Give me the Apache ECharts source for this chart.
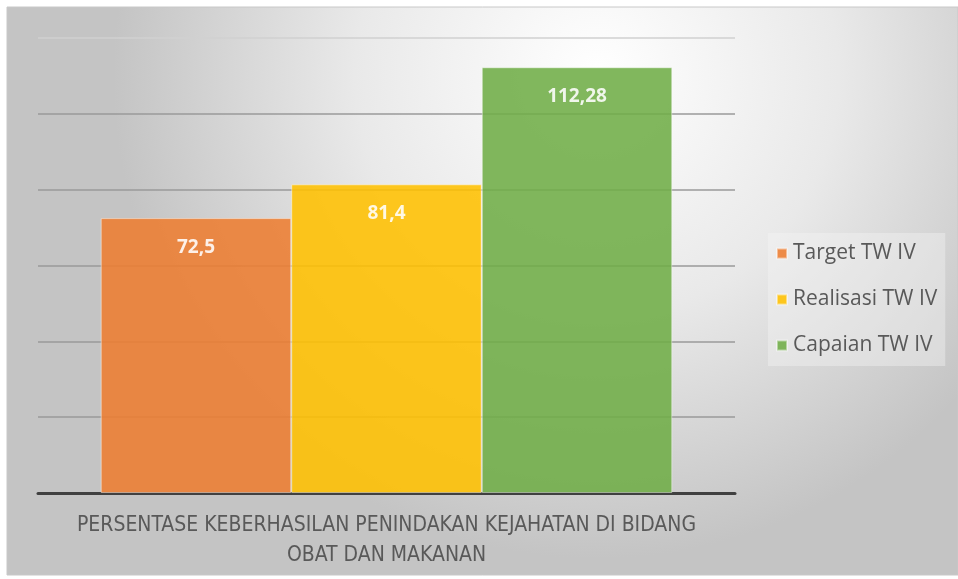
<!DOCTYPE html>
<html><head><meta charset="utf-8">
<script src="https://cdn.jsdelivr.net/npm/echarts@6/dist/echarts.min.js"></script>
<style>html,body{margin:0;padding:0;background:#fff;}#c{width:958px;height:579px;}</style>
</head><body><div id="c"></div>
<script>
const categories = ['PERSENTASE KEBERHASILAN PENINDAKAN KEJAHATAN DI BIDANG\nOBAT DAN MAKANAN'];
const seriesNames = ['Target TW IV', 'Realisasi TW IV', 'Capaian TW IV'];
const targetValues = [72.5];
const realisasiValues = [81.4];
const capaianValues = [112.28];
const seriesColors = ['#ED7D31', '#FFC000', '#70AD47'];

const chart = echarts.init(document.getElementById('c'), null, {renderer: 'canvas'});
const fmt = p => String(p.value).replace('.', ',');
const valuesList = [targetValues, realisasiValues, capaianValues];
const series = seriesNames.map((n, i) => ({
  name: n, type: 'bar', data: valuesList[i],
  barGap: '0%', barCategoryGap: '18%',
  itemStyle: {color: seriesColors[i], opacity: 0.88, borderColor: 'rgba(255,255,255,0.5)', borderWidth: 1},
  label: {show: true, position: 'insideTop', distance: 20, formatter: fmt,
    color: '#fff', fontSize: 19, fontWeight: 'bold', fontFamily: 'Open Sans'}
}));

chart.setOption({
  animation: false,
  backgroundColor: '#fff',
  color: seriesColors,
  graphic: [{
    type: 'rect', z: -10, silent: true,
    shape: {x: 7, y: 7, width: 951, height: 568},
    style: {
      fill: {type: 'radial', x: 0.62, y: 0.12, r: 0.85,
        colorStops: [{offset: 0, color: '#ffffff'}, {offset: 0.5, color: '#e9e9e9'}, {offset: 1, color: '#c4c4c4'}]},
      stroke: '#c8c8c8', lineWidth: 1
    }
  }],
  grid: {left: 38, right: 223, top: 38, bottom: 86, containLabel: false},
  legend: {
    orient: 'vertical', left: 768, top: 233,
    itemWidth: 10, itemHeight: 10, itemGap: 25, icon: 'rect',
    backgroundColor: 'rgba(245,245,245,0.4)', padding: [10, 8, 10, 8],
    textStyle: {fontSize: 21, color: '#595959', fontFamily: 'Open Sans', padding: [0, 0, 0, 1]}
  },
  xAxis: {
    type: 'category', data: categories,
    axisTick: {show: false},
    axisLine: {lineStyle: {color: '#404040', width: 3}},
    axisLabel: {color: '#595959', fontSize: 21, lineHeight: 30, margin: 18,
      fontFamily: "'DejaVu Sans Condensed', 'Liberation Sans', sans-serif", interval: 0}
  },
  yAxis: {
    type: 'value', min: 0, max: 120, interval: 20,
    axisLabel: {show: false}, axisLine: {show: false}, axisTick: {show: false},
    splitLine: {lineStyle: {color: ['#9a9a9a', '#9a9a9a', '#9a9a9a', '#9a9a9a', '#9a9a9a', '#9a9a9a', '#d0d0d0'], width: 1.5}}
  },
  series: series
});
</script></body></html>
